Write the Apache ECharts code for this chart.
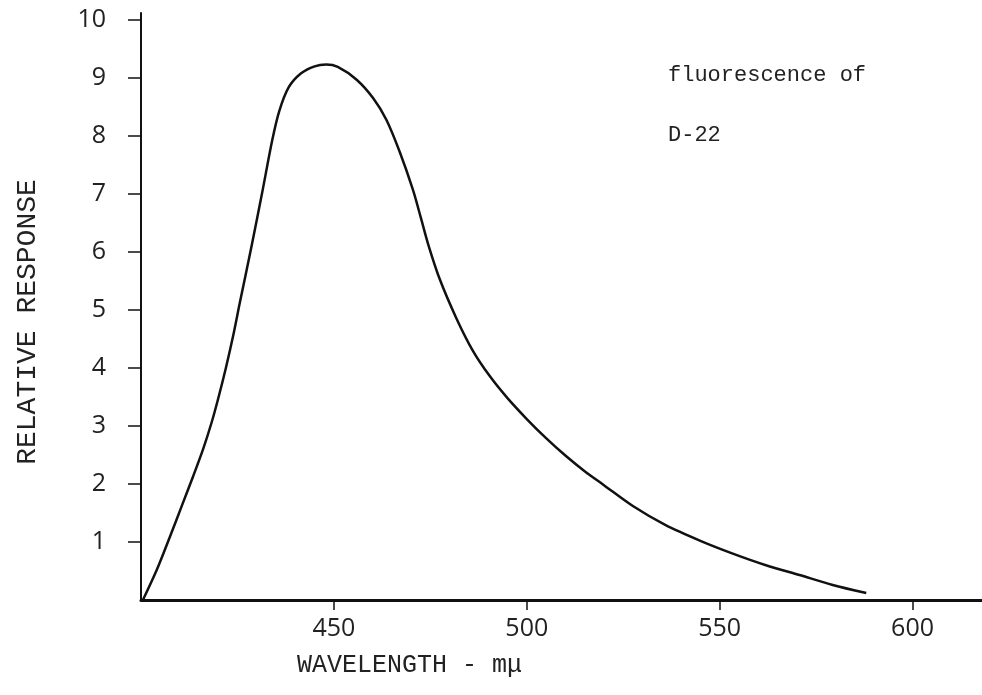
<!DOCTYPE html>
<html>
<head>
<meta charset="utf-8">
<script src="https://cdn.jsdelivr.net/npm/echarts@6/dist/echarts.min.js"></script>
<style>
html,body{margin:0;padding:0;background:#fff;}
#chart{width:982px;height:695px;}
</style>
</head>
<body>
<div id="chart"></div>
<script>
// Wavelength (mμ) and relative response
var wavelength = [400.5, 404.1, 407.5, 410.5, 413.5, 416.1, 418.3, 420.0, 422.0, 423.9, 425.6, 428.6, 431.4, 434.0, 435.8, 438.3, 441.5, 445.0, 448.0, 451.0, 455.9, 460.2, 463.6, 467.1, 470.5, 472.5, 474.5, 477.5, 481.8, 486.0, 490.4, 495.0, 500.0, 505.0, 510.0, 515.0, 520.0, 527.5, 536.0, 545.0, 553.4, 562.0, 570.7, 579.3, 588.0];
var response = [0.0, 0.52, 1.09, 1.61, 2.13, 2.60, 3.06, 3.47, 4.00, 4.56, 5.12, 6.08, 7.02, 7.92, 8.42, 8.84, 9.08, 9.20, 9.23, 9.19, 8.97, 8.65, 8.28, 7.72, 7.07, 6.60, 6.12, 5.52, 4.85, 4.30, 3.86, 3.48, 3.12, 2.79, 2.49, 2.22, 1.98, 1.62, 1.29, 1.02, 0.80, 0.60, 0.43, 0.26, 0.12];
var xTicks = [450, 500, 550, 600];
var yTicks = [1, 2, 3, 4, 5, 6, 7, 8, 9, 10];
var xTitle = 'WAVELENGTH - mμ';
var yTitle = 'RELATIVE RESPONSE';
var noteLines = ['fluorescence of', 'D-22'];

var pts = wavelength.map(function (w, i) { return [w, response[i]]; });
var chart = echarts.init(document.getElementById('chart'));
var tickFont = { fontFamily: 'Open Sans', fontWeight: 400, fontSize: 25, color: '#222' };
chart.setOption({
  backgroundColor: '#fff',
  animation: false,
  grid: { left: 141, right: 0, top: 13, bottom: 95 },
  xAxis: {
    type: 'value', min: 400, max: 618,
    axisLine: { show: true, lineStyle: { color: '#111', width: 3 } },
    axisTick: { show: true, customValues: xTicks, length: 10, lineStyle: { color: '#111', width: 1.5 } },
    axisLabel: Object.assign({ customValues: xTicks, margin: 16 }, tickFont),
    splitLine: { show: false }
  },
  yAxis: {
    type: 'value', min: 0, max: 10.12,
    axisLine: { show: true, lineStyle: { color: '#111', width: 2 } },
    axisTick: { show: true, customValues: yTicks, length: 13, lineStyle: { color: '#111', width: 1.5 } },
    axisLabel: Object.assign({ customValues: yTicks, margin: 35 }, tickFont),
    splitLine: { show: false }
  },
  graphic: [
    { type: 'text', x: 297, y: 665, style: { text: xTitle, font: '25px "Liberation Mono"', fill: '#222', verticalAlign: 'middle' } },
    { type: 'text', x: 28, y: 322, rotation: Math.PI / 2, style: { text: yTitle, font: '28px "Liberation Mono"', fill: '#222', align: 'center', verticalAlign: 'middle' } },
    { type: 'text', x: 668, y: 75, style: { text: noteLines[0], font: '22px "Liberation Mono"', fill: '#222', verticalAlign: 'middle' } },
    { type: 'text', x: 668, y: 135, style: { text: noteLines[1], font: '22px "Liberation Mono"', fill: '#222', verticalAlign: 'middle' } }
  ],
  series: [{
    type: 'line', data: pts, smooth: 0.3, symbol: 'none',
    lineStyle: { color: '#111', width: 2.5 }
  }]
});
</script>
</body>
</html>
